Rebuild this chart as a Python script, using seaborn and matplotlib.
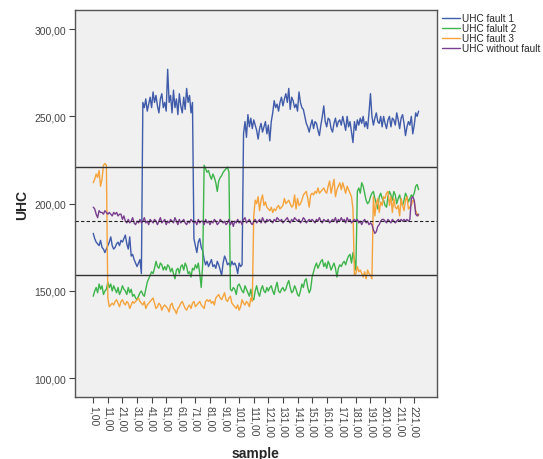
import numpy as np
import pandas as pd
import matplotlib
matplotlib.use('Agg')
import matplotlib.pyplot as plt
import seaborn as sns
from matplotlib.lines import Line2D
from matplotlib.ticker import FuncFormatter

# UHC readings per sample (1..224)
fault_1 = [
    183, 180, 178, 177, 176, 179, 175, 174, 172, 174,
    176, 178, 181, 176, 174, 175, 177, 178, 176, 179,
    178, 180, 182, 177, 174, 181, 170, 171, 168, 166,
    164, 166, 168, 160, 258, 255, 260, 253, 257, 261,
    255, 264, 258, 262, 256, 252, 260, 263, 255, 258,
    253, 277, 258, 262, 252, 265, 255, 260, 251, 263,
    256, 252, 261, 254, 266, 258, 262, 252, 258, 180,
    176, 172, 178, 180, 175, 173, 168, 165, 167, 164,
    166, 168, 164, 165, 163, 167, 165, 162, 159, 166,
    170, 168, 165, 166, 164, 167, 165, 166, 164, 160,
    166, 164, 165, 240, 247, 238, 251, 244, 249, 243,
    248, 245, 242, 237, 243, 246, 241, 244, 247, 240,
    245, 236, 247, 252, 259, 255, 257, 253, 258, 261,
    256, 260, 263, 258, 266, 254, 261, 259, 255, 257,
    253, 264, 258, 255, 254, 250, 246, 244, 241, 245,
    248, 243, 247, 246, 242, 239, 245, 250, 256, 247,
    244, 249, 248, 243, 241, 246, 249, 244, 247, 248,
    245, 250, 246, 242, 250, 244, 247, 241, 235, 247,
    242, 248, 245, 249, 246, 250, 244, 247, 243, 252,
    263, 250, 245, 249, 252, 247, 246, 250, 244, 250,
    246, 243, 248, 250, 244, 249, 248, 245, 252, 248,
    243, 249, 251, 246, 239, 244, 247, 245, 250, 240,
    245, 252, 250, 253,
]

fault_2 = [
    147, 150, 152, 149, 154, 151, 153, 148, 150, 151,
    155, 152, 154, 150, 153, 151, 149, 152, 148, 150,
    153, 151, 150, 148, 152, 149, 151, 147, 148, 146,
    145, 147, 149, 150, 148, 147, 151, 155, 157, 159,
    161, 160, 163, 167, 164, 163, 166, 165, 162, 164,
    162, 165, 164, 161, 163, 160, 157, 162, 163, 160,
    164, 165, 162, 166, 164, 160, 161, 158, 163, 162,
    165, 163, 166, 160, 152, 165, 222, 220, 218, 219,
    216, 214, 217, 215, 212, 207, 213, 215, 216, 218,
    219, 220, 221, 218, 151, 150, 152, 151, 148, 153,
    154, 152, 150, 149, 153, 151, 149, 147, 151, 146,
    145, 150, 153, 149, 147, 151, 153, 150, 149, 152,
    150, 152, 153, 150, 148, 152, 155, 150, 149, 151,
    152, 150, 151, 154, 156, 152, 149, 150, 153, 151,
    148, 147, 150, 154, 152, 156, 157, 152, 149, 151,
    158, 161, 164, 166, 163, 165, 167, 168, 164, 166,
    163, 167, 165, 162, 164, 166, 163, 158, 163, 165,
    164, 166, 167, 165, 168, 170, 171, 166, 172, 168,
    162, 207, 209, 206, 212, 210, 206, 202, 200, 201,
    204, 206, 207, 203, 200, 197, 204, 206, 203, 202,
    199, 198, 204, 207, 205, 202, 207, 205, 200, 203,
    205, 201, 199, 202, 206, 204, 201, 203, 205, 204,
    206, 210, 211, 208,
]

fault_3 = [
    212, 214, 217, 215, 219, 210, 214, 222, 223, 222,
    146, 141, 142, 143, 142, 144, 145, 143, 141, 144,
    145, 143, 142, 144, 143, 140, 142, 144, 143, 144,
    145, 146, 144, 143, 142, 144, 140, 142, 143, 144,
    145, 146, 143, 140, 141, 143, 142, 139, 141, 142,
    141, 140, 138, 142, 143, 140, 139, 137, 140, 141,
    143, 144, 142, 140, 139, 141, 142, 140, 143, 144,
    141, 142, 143, 144, 142, 141, 140, 144, 145, 144,
    145, 143, 144, 142, 146, 147, 148, 146, 145, 147,
    149, 145, 144, 146, 147, 143, 142, 141, 140, 142,
    139, 141, 145, 143, 142, 144, 143, 141, 146, 144,
    193, 202, 200, 204, 196, 202, 205, 199, 201, 198,
    197, 196, 198, 195, 197, 196, 198, 199, 197, 198,
    199, 203, 200, 201, 202, 200, 198, 199, 205, 197,
    203, 199, 200, 202, 205, 206, 207, 203, 198, 205,
    206, 205, 207, 206, 209, 206, 207, 208, 209, 207,
    206, 210, 213, 206, 210, 214, 204, 208, 210, 212,
    208, 212, 209, 206, 210, 208, 206, 204, 197, 159,
    160, 164, 161, 162, 160, 158, 161, 157, 162, 160,
    159, 157, 204, 193, 200, 203, 195, 201, 199, 204,
    203, 206, 207, 199, 204, 195, 203, 198, 197, 199,
    193, 203, 199, 196, 202, 204, 197, 198, 199, 202,
    201, 196, 194, 193,
]

no_fault = [
    198, 197, 194, 192, 196, 195, 195, 194, 196, 195,
    194, 195, 194, 193, 195, 194, 195, 193, 194, 194,
    191, 193, 190, 189, 191, 189, 190, 192, 189, 188,
    190, 189, 191, 189, 190, 192, 189, 190, 188, 191,
    190, 189, 191, 190, 188, 190, 192, 189, 190, 191,
    188, 190, 189, 191, 190, 189, 192, 190, 188, 191,
    189, 190, 191, 189, 188, 190, 189, 191, 190, 189,
    190, 188, 191, 189, 190, 190, 188, 191, 189, 190,
    188, 190, 189, 191, 190, 188, 189, 191, 190, 189,
    190, 188, 189, 191, 188, 190, 187, 190, 189, 191,
    189, 190, 188, 191, 192, 189, 190, 191, 189, 188,
    190, 191, 189, 190, 191, 189, 192, 190, 189, 191,
    190, 191, 190, 189, 191, 190, 192, 191, 190, 191,
    189, 190, 191, 192, 190, 189, 191, 190, 192, 191,
    190, 191, 189, 190, 192, 191, 189, 190, 191, 190,
    191, 190, 189, 191, 190, 192, 190, 189, 191, 190,
    190, 191, 189, 190, 191, 190, 192, 189, 191, 190,
    192, 190, 191, 189, 192, 190, 191, 189, 190, 191,
    190, 191, 189, 190, 188, 190, 191, 189, 190, 188,
    189, 188, 185, 183, 184, 187, 188, 190, 191, 191,
    190, 189, 191, 190, 189, 191, 190, 189, 190, 191,
    190, 191, 190, 191, 190, 191, 190, 191, 203, 204,
    202, 194, 193, 194,
]

series_names = ['UHC fault 1', 'UHC falult 2', 'UHC fault 3', 'UHC without fault']
series_colors = ['#3F5BAA', '#3DB54A', '#F5A33A', '#7A3E8E']

# control lines: mean and upper / lower limits
center_line = 190
upper_limit = 221
lower_limit = 159

samples = np.arange(1, len(fault_1) + 1)
df = pd.concat([
    pd.DataFrame({'sample': samples, 'UHC': vals, 'series': name})
    for name, vals in zip(series_names, [fault_1, fault_2, fault_3, no_fault])
])

sns.set_style('ticks')
plt.rcParams['font.family'] = ['Liberation Sans', 'DejaVu Sans']

fig = plt.figure(figsize=(5.43, 4.60), dpi=100)
ax = fig.add_axes([0.1376, 0.1348, 0.6672, 0.8412])
ax.set_facecolor('#F0F0F0')

palette = dict(zip(series_names, series_colors))
sns.lineplot(data=df, x='sample', y='UHC', hue='series', palette=palette,
             linewidth=1.0, ax=ax, legend=False, estimator=None)

ax.axhline(upper_limit, color='#333333', linewidth=1.0)
ax.axhline(lower_limit, color='#333333', linewidth=1.0)
ax.axhline(center_line, color='#222222', linewidth=0.8, linestyle=(0, (3, 2)))

ax.set_xlim(-11.7, 236.6)
ax.set_ylim(89.3, 310.9)

comma = FuncFormatter(lambda v, pos: f'{v:.2f}'.replace('.', ','))
ax.set_yticks([100, 150, 200, 250, 300])
ax.yaxis.set_major_formatter(comma)
ax.set_xticks(np.arange(1, 222, 10))
ax.xaxis.set_major_formatter(comma)
ax.tick_params(axis='x', labelrotation=-90)
ax.tick_params(axis='both', length=4, width=0.8, color='#444444',
               labelsize=7.5, labelcolor='#444444', pad=2)

for side in ax.spines.values():
    side.set_color('#555555')
    side.set_linewidth(1.0)

ax.set_xlabel('sample', fontsize=10, fontweight='bold', labelpad=6)
ax.set_ylabel('UHC', fontsize=10, fontweight='bold', labelpad=4)

handles = [Line2D([0], [0], color=c, linewidth=1.0) for c in series_colors]
leg = fig.legend(handles, series_names, loc='upper left',
                 bbox_to_anchor=(0.806, 0.978), frameon=False, fontsize=7.2,
                 handlelength=1.8, handletextpad=0.25, labelspacing=0.0,
                 borderaxespad=0)

fig.savefig('out.png', dpi=100, facecolor='white')
